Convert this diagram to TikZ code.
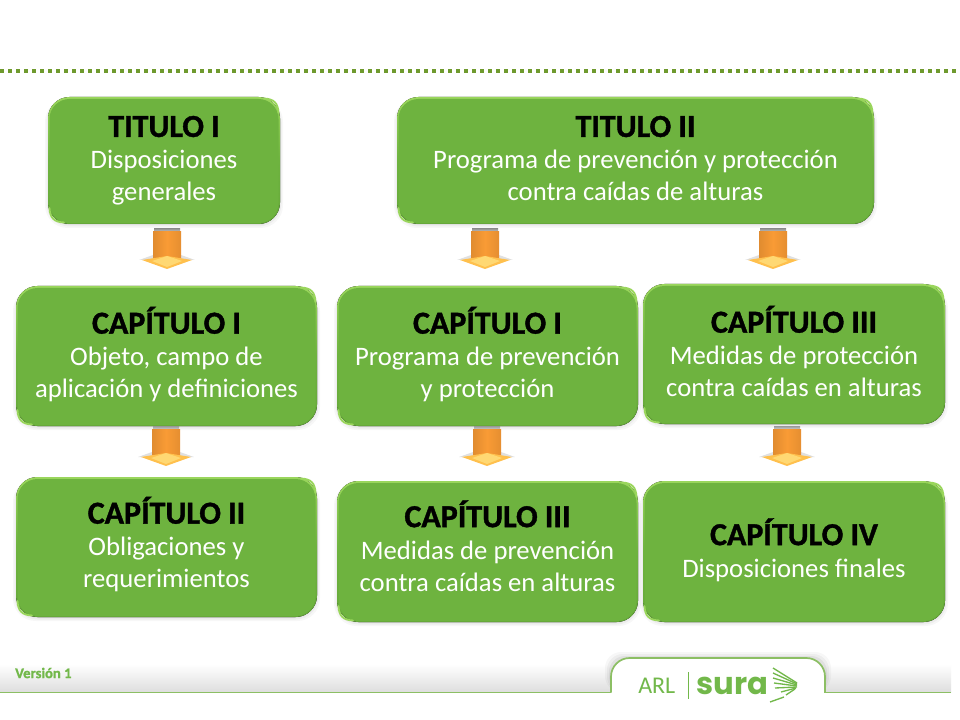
\documentclass[tikz,border=0pt]{standalone}
\usepackage{fontspec}
\setmainfont{Carlito}[BoldFeatures={FakeBold=1.2}]
\newfontfamily\surafont{Poppins}
\usetikzlibrary{calc}
\definecolor{boxgreen}{HTML}{6EB33F}
\definecolor{boxlight}{HTML}{9AD65C}
\definecolor{boxdark}{HTML}{66A83A}
\definecolor{dotgreen}{HTML}{6F9A2E}
\definecolor{footgreen}{HTML}{8CBF64}
\definecolor{logogreen}{HTML}{72B84A}
\definecolor{arrbody}{HTML}{F99B35}
\definecolor{arrhead}{HTML}{FFC04D}
\definecolor{arrtop}{HTML}{FFD873}
\tikzset{
  x=0.75pt,y=-0.75pt,
  boxtext/.style={align=center,text=white,font=\fontsize{20}{24}\selectfont,inner sep=0pt},
  boxedge/.style={rounded corners=16pt,top color=boxlight,bottom color=boxdark,middle color=boxgreen},
  boxcore/.style={rounded corners=15pt,fill=boxgreen},
  tabline/.style={footgreen,line width=1.3pt},
  bevel/.style={boxlight,line width=1.4pt,line cap=round},
}
\newcommand{\ttl}[1]{{\fontsize{24}{24}\selectfont\bfseries\color{black}#1\strut}}
% name, x0,y0,x1,y1, vertical text offset, text
\newcommand{\gbox}[7]{%
  \foreach \s/\o in {4/.03,2.5/.04,1/.05}{
    \fill[black,opacity=\o,rounded corners=17pt] (#2-\s+1,#3+2) rectangle (#4+\s-1,#5+\s);}
  \fill[boxedge] (#2,#3) rectangle (#4,#5);
  \fill[boxcore] (#2+1.5,#3+2) rectangle (#4-1.5,#5-1);
  \draw[bevel] (#4-16,#3+1.5) .. controls (#4-6,#3+2) and (#4-2,#3+6) .. (#4-1.5,#3+16);
  \draw[bevel] (#2+1.5,#5-16) .. controls (#2+2,#5-6) and (#2+6,#5-2) .. (#2+16,#5-1.5);
  \node[boxtext] (#1) at ({(#2+#4)/2},{(#3+#5)/2+#6}) {#7\strut};
}
% body-centre x, top y
\newcommand{\barrow}[3]{%
  \coordinate (#1) at (#2,#3);
  \shade[top color=black!40,bottom color=black!15] ($(#1)+(-13,0)$) rectangle ($(#1)+(13,4)$);
  \fill[black,opacity=.12] ($(#1)+(-28,31)$) -- ($(#1)+(28,31)$) -- ($(#1)+(14,26)$) -- ($(#1)+(-14,26)$) -- cycle;
  \shade[left color=arrbody!90!black,right color=arrbody!92!black,middle color=arrbody] ($(#1)+(-14,3)$) rectangle ($(#1)+(14,30)$);
  \fill[arrhead] ($(#1)+(-25,31)$) -- ($(#1)+(0,27)$) -- ($(#1)+(25,31)$) -- ($(#1)+(0,40)$) -- cycle;
  \fill[arrtop] ($(#1)+(-15,32)$) -- ($(#1)+(0,27)$) -- ($(#1)+(15,32)$) -- ($(#1)+(0,38)$) -- cycle;
}
\begin{document}
\begin{tikzpicture}
\useasboundingbox (0,0) rectangle (960,720);
\fill[white] (0,0) rectangle (960,720);
% dotted rule
\draw[dotgreen,line width=3pt,dash pattern=on 3pt off 3pt] (0,71) -- (956,71);
% footer
\shade[top color=white,bottom color=black!13] (0,664) rectangle (951,692);
\foreach \s/\o in {6/.03,4/.04,2/.05}{
  \fill[black,opacity=\o,rounded corners=12pt] (611-\s,692) -- (611-\s,658-\s) -- (825+\s,658-\s) -- (825+\s,692) -- cycle;}
\fill[white,rounded corners=14pt] (611,730) -- (611,658) -- (825,658) -- (825,730) -- cycle;
\fill[white] (0,693) rectangle (960,720);
\draw[tabline] (0,692.5) -- (611,692.5);
\draw[tabline,rounded corners=14pt] (611,692.5) -- (611,658) -- (825,658) -- (825,700);
\fill[white] (605,693.4) rectangle (830,720);
\draw[tabline] (825,692.5) -- (951,692.5);
\node[text=logogreen,font=\bfseries\fontsize{11}{12}\selectfont,anchor=west,inner sep=0pt] (version) at (15,673) {Versión 1};
\node[text=logogreen,font=\fontsize{18}{18}\selectfont,anchor=west,inner sep=0pt] (arl) at (638,686) {ARL};
\draw[logogreen,line width=.6pt] (688,672) -- (688,699);
\node[text=logogreen,font=\surafont\bfseries\fontsize{23}{26}\selectfont,anchor=west,inner sep=0pt] (sura) at (696,686) {sura};
\foreach \a/\b/\c/\d in {773/668/797/683, 773/673/797/684, 773/678/797/685, 774/683/797/686, 775/688/797/687, 781/692/796/688, 786/695/795/689, 770/702/784/697}{
  \draw[logogreen,line width=1pt] (\a,\b) -- (\c,\d);}
% boxes
\gbox{t1}{48}{97}{280}{224}{2}{\ttl{TITULO I}\\Disposiciones\\generales}
\gbox{t2}{397}{97}{874}{224}{2}{\ttl{TITULO II}\\Programa de prevención y protección\\contra caídas de alturas}
\gbox{c1}{16}{286}{317}{426}{1}{\ttl{CAPÍTULO I}\\Objeto, campo de\\aplicación y definiciones}
\gbox{c1b}{337}{286}{638}{426}{1}{\ttl{CAPÍTULO I}\\Programa de prevención\\y protección}
\gbox{c3}{643}{284}{945}{424}{2}{\ttl{CAPÍTULO III}\\Medidas de protección\\contra caídas en alturas}
\gbox{c2}{16}{477}{317}{617}{0}{\ttl{CAPÍTULO II}\\Obligaciones y\\requerimientos}
\gbox{c3b}{337}{481}{638}{622}{-1}{\ttl{CAPÍTULO III}\\Medidas de prevención\\contra caídas en alturas}
\gbox{c4}{643}{481}{945}{622}{1}{\ttl{CAPÍTULO IV}\\Disposiciones finales}
% block arrows
\barrow{a1}{167}{229}
\barrow{a2}{485}{229}
\barrow{a3}{773}{229}
\barrow{a4}{166}{426}
\barrow{a5}{487}{426}
\barrow{a6}{787}{426}
\end{tikzpicture}
\end{document}
